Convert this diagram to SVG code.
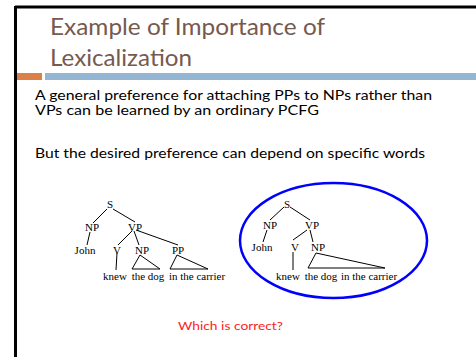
<svg xmlns="http://www.w3.org/2000/svg" width="476" height="357" viewBox="0 0 476 357">
<style>
.title{font-family:"Lato","Liberation Sans",sans-serif;font-size:24px;fill:#76594f}
.body{font-family:"Lato","Liberation Sans",sans-serif;font-size:13px;fill:#000}
.t{font-family:"Liberation Serif",serif;font-size:11px;fill:#000;text-anchor:middle}
.e{stroke:#000;stroke-width:1;fill:none}
.q{font-family:"Lato","Liberation Sans",sans-serif;font-size:12px;fill:#ff1a1a}
</style>
<rect width="476" height="357" fill="#fff"/>
<g id="frame">
<line x1="15" y1="7" x2="476" y2="7" stroke="#000" stroke-width="3"/>
<line x1="15.5" y1="6" x2="15.5" y2="357" stroke="#000" stroke-width="3"/>
<rect x="17" y="73" width="25" height="7" fill="#dd8047"/>
<rect x="45" y="73" width="431" height="7" fill="#94b6d2"/>
</g>
<g id="title">
<text class="title" x="50" y="35" textLength="275" lengthAdjust="spacingAndGlyphs">Example of Importance of</text>
<text class="title" x="50" y="66" textLength="142" lengthAdjust="spacingAndGlyphs">Lexicalization</text>
</g>
<g id="body">
<text class="body" x="35" y="100" textLength="397" lengthAdjust="spacingAndGlyphs">A general preference for attaching PPs to NPs rather than</text>
<text class="body" x="35" y="115" textLength="284" lengthAdjust="spacingAndGlyphs">VPs can be learned by an ordinary PCFG</text>
<text class="body" x="35" y="158" textLength="390" lengthAdjust="spacingAndGlyphs">But the desired preference can depend on specific words</text>
</g>
<g id="tree-left">
<text class="t" x="110" y="208">S</text>
<text class="t" x="92" y="231">NP</text>
<text class="t" x="135" y="231">VP</text>
<text class="t" x="85" y="254">John</text>
<text class="t" x="117" y="254">V</text>
<text class="t" x="142" y="254">NP</text>
<text class="t" x="178" y="254">PP</text>
<text class="t" x="115" y="280">knew</text>
<text class="t" x="148" y="280">the dog</text>
<text class="t" x="197" y="280">in the carrier</text>
<g class="e">
<line x1="107" y1="209" x2="93" y2="223"/>
<line x1="113" y1="209" x2="135" y2="222"/>
<line x1="90" y1="232" x2="87" y2="245"/>
<line x1="132" y1="231" x2="118" y2="245"/>
<line x1="134" y1="231" x2="139" y2="245"/>
<line x1="136" y1="230" x2="178" y2="245"/>
<line x1="117" y1="253" x2="116" y2="270"/>
<polygon points="140,255 132,269 160,269"/>
<polygon points="177,255 170,269 208,269"/>
</g>
</g>
<g id="tree-right">
<ellipse cx="333.5" cy="240.5" rx="93.5" ry="57.5" fill="none" stroke="#0000ff" stroke-width="2.5"/>
<text class="t" x="287" y="208">S</text>
<text class="t" x="270" y="229">NP</text>
<text class="t" x="312" y="229">VP</text>
<text class="t" x="262" y="251">John</text>
<text class="t" x="295" y="251">V</text>
<text class="t" x="318" y="251">NP</text>
<text class="t" x="288" y="280">knew</text>
<text class="t" x="321" y="280">the dog</text>
<text class="t" x="369" y="280">in the carrier</text>
<g class="e">
<line x1="284" y1="207" x2="270" y2="220"/>
<line x1="290" y1="207" x2="310" y2="220"/>
<line x1="267" y1="230" x2="263" y2="242"/>
<line x1="307" y1="230" x2="293" y2="240"/>
<line x1="310" y1="230" x2="313" y2="242"/>
<line x1="293" y1="252" x2="293" y2="270"/>
<polygon points="316,253 308,268 385,268"/>
</g>
</g>
<g id="question">
<text class="q" x="178" y="330" textLength="105" lengthAdjust="spacingAndGlyphs">Which is correct?</text>
</g>
</svg>
